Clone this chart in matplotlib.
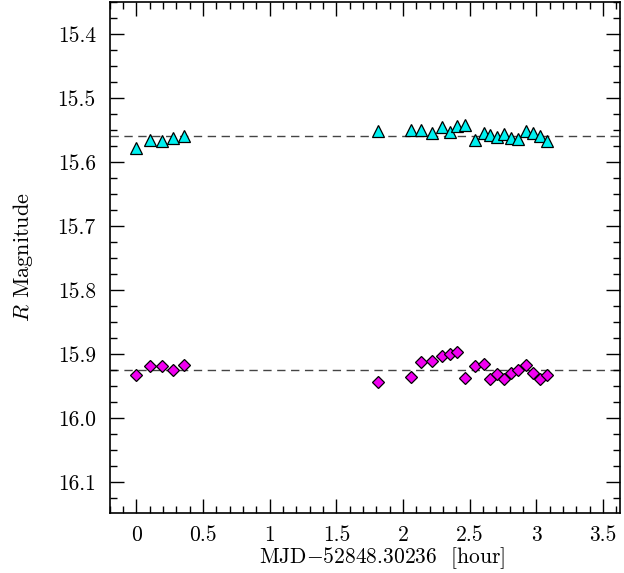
import numpy as np
import matplotlib
matplotlib.use('Agg')
import matplotlib.pyplot as plt
from matplotlib.ticker import MultipleLocator

# time since MJD 52848.30236, in hours (same epochs for both stars)
hours = [0.00, 0.103, 0.193, 0.273, 0.356,
         1.815, 2.06, 2.138, 2.216, 2.29, 2.353, 2.408, 2.466, 2.539,
         2.604, 2.654, 2.704, 2.76, 2.81, 2.865, 2.925, 2.975, 3.03, 3.08]

# comparison star (triangles)
mag_a = [15.578, 15.566, 15.567, 15.562, 15.559,
         15.551, 15.550, 15.550, 15.554, 15.546, 15.553, 15.543, 15.542, 15.565,
         15.555, 15.558, 15.561, 15.556, 15.563, 15.564, 15.551, 15.555, 15.559, 15.567]
err_a = [0.005, 0.004, 0.004, 0.004, 0.004,
         0.004, 0.004, 0.004, 0.006, 0.005, 0.006, 0.005, 0.004, 0.004,
         0.004, 0.004, 0.004, 0.004, 0.005, 0.005, 0.004, 0.005, 0.006, 0.006]
mean_a = 15.559

# target (diamonds)
mag_b = [15.933, 15.918, 15.918, 15.924, 15.917,
         15.944, 15.936, 15.913, 15.911, 15.903, 15.900, 15.896, 15.937, 15.918,
         15.916, 15.938, 15.931, 15.939, 15.929, 15.925, 15.917, 15.929, 15.938, 15.933]
err_b = [0.004, 0.003, 0.003, 0.003, 0.003,
         0.003, 0.003, 0.003, 0.003, 0.003, 0.003, 0.003, 0.003, 0.003,
         0.003, 0.003, 0.003, 0.003, 0.003, 0.003, 0.003, 0.003, 0.005, 0.004]
mean_b = 15.924

plt.rcParams['font.family'] = 'serif'
plt.rcParams['font.serif'] = ['cmr10']
plt.rcParams['mathtext.fontset'] = 'cm'
plt.rcParams['axes.formatter.use_mathtext'] = True

fig = plt.figure(figsize=(6.24, 5.73), dpi=100)
ax = fig.add_axes([0.176, 0.1047, 0.818, 0.892])

ax.axhline(mean_a, color='#444444', lw=1.0, ls=(0, (6, 4)), zorder=1)
ax.axhline(mean_b, color='#444444', lw=1.0, ls=(0, (6, 4)), zorder=1)

ax.errorbar(hours, mag_a, yerr=err_a, fmt='^', ms=8, mfc='#00f0f0',
            mec='black', mew=0.9, ecolor='black', elinewidth=0.8,
            capsize=0, zorder=3)
ax.errorbar(hours, mag_b, yerr=err_b, fmt='D', ms=6.5, mfc='#f000f0',
            mec='black', mew=0.9, ecolor='black', elinewidth=0.8,
            capsize=0, zorder=3)

ax.set_xlim(-0.2, 3.63)
ax.set_ylim(16.148, 15.35)

ax.xaxis.set_major_locator(MultipleLocator(0.5))
ax.xaxis.set_minor_locator(MultipleLocator(0.1))
ax.yaxis.set_major_locator(MultipleLocator(0.1))
ax.yaxis.set_minor_locator(MultipleLocator(0.025))
ax.xaxis.set_major_formatter(plt.FuncFormatter(lambda v, p: '%g' % v))
ax.yaxis.set_major_formatter(plt.FuncFormatter(lambda v, p: '%.1f' % v))

ax.tick_params(which='both', direction='in', top=True, right=True,
               labelsize=15.5, width=1.0)
ax.tick_params(which='major', length=10, pad=10)
ax.tick_params(axis='x', which='major', pad=9)
ax.tick_params(which='minor', length=5)
for s in ax.spines.values():
    s.set_linewidth(1.2)

ax.set_xlabel(r'MJD$-$52848.30236  [hour]', fontsize=15.5)
ax.xaxis.set_label_coords(0.533, -0.063)
ax.set_ylabel(r'$R$ Magnitude', fontsize=16, labelpad=16)

fig.savefig('out.png', dpi=100)
